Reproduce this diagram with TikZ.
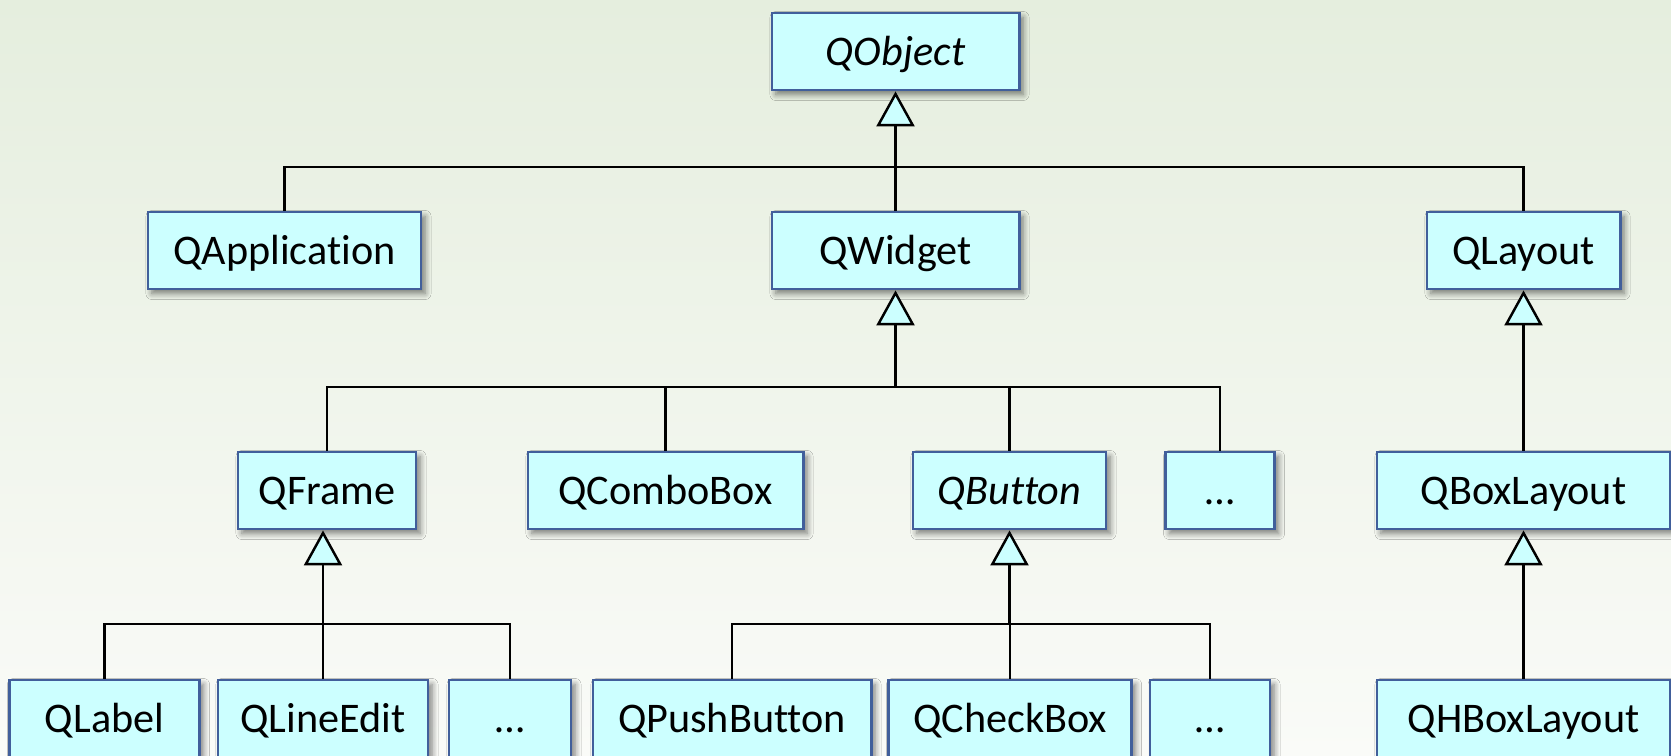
\documentclass[tikz,border=0pt]{standalone}
\usepackage{fontspec}
\setmainfont{Carlito}[Ligatures=NoCommon]
\usetikzlibrary{arrows.meta,shadows.blur}

\definecolor{boxfill}{HTML}{CCFFFF}
\definecolor{boxline}{RGB}{65,95,155}
\definecolor{bgtop}{RGB}{229,238,222}
\definecolor{bgbottom}{RGB}{250,251,248}

\begin{document}
\begin{tikzpicture}[x=0.01cm,y=-0.01cm,
    cls/.style={draw=boxline,fill=boxfill,line width=0.8pt,minimum height=0.77cm,
      text height=7.7pt,text depth=0pt,font=\fontsize{12}{14}\selectfont,
      blur shadow={shadow xshift=0.04cm,shadow yshift=-0.045cm,
        shadow blur radius=0.06cm,shadow blur steps=6,shadow opacity=50}},
    abstract/.style={cls,font=\fontsize{12}{14}\selectfont\itshape},
    link/.style={line width=0.7pt},
    isa/.style={link,-{Triangle[length=0.35cm,width=0.38cm,fill=boxfill]}}]
      % background
      \shade[top color=bgtop,bottom color=bgbottom] (0,0) rectangle (1671,755);
      \useasboundingbox (0,0) rectangle (1671,755);

      % classes
      \node[abstract,minimum width=2.47cm] (qobject) at (895.5,51.5) {QObject};

      \node[cls,minimum width=2.73cm] (qapp)    at (284.5,250.5)  {QApplication};
      \node[cls,minimum width=2.47cm] (qwidget) at (895.5,250.5)  {QWidget};
      \node[cls,minimum width=1.93cm] (qlayout) at (1523.5,250.5) {QLayout};

      \node[cls,minimum width=1.78cm]      (qframe)     at (327,490.5)    {QFrame};
      \node[cls,minimum width=2.75cm]      (qcombo)     at (665.5,490.5)  {QComboBox};
      \node[abstract,minimum width=1.93cm] (qbutton)    at (1009.5,490.5) {QButton};
      \node[cls,minimum width=1.09cm]      (wmore)      at (1220,490.5)   {…};
      \node[cls,minimum width=2.93cm]      (qboxlayout) at (1523.5,490.5) {QBoxLayout};

      \node[cls,minimum width=1.90cm] (qlabel)    at (104.5,718.5)  {QLabel};
      \node[cls,minimum width=2.10cm] (qlineedit) at (323,718.5)    {QLineEdit};
      \node[cls,minimum width=1.22cm] (fmore)     at (510,718.5)    {…};
      \node[cls,minimum width=2.78cm] (qpush)     at (732,718.5)    {QPushButton};
      \node[cls,minimum width=2.43cm] (qcheck)    at (1010,718.5)   {QCheckBox};
      \node[cls,minimum width=1.20cm] (bmore)     at (1210,718.5)   {…};
      \node[cls,minimum width=2.93cm] (qhbox)     at (1523.5,718.5) {QHBoxLayout};

      % inheritance
      \coordinate (j1) at (895.5,167);
      \draw[link] (qapp.north) |- (j1) -| (qlayout.north);
      \draw[link] (qwidget.north) -- (j1);
      \draw[isa] (j1) -- (qobject.south);

      \coordinate (j2) at (895.5,387);
      \draw[link] (qframe.north) |- (j2) -| (wmore.north);
      \draw[link] (qcombo.north) -- (qcombo.north |- j2);
      \draw[link] (qbutton.north) -- (qbutton.north |- j2);
      \draw[isa] (j2) -- (qwidget.south);

      \coordinate (j3) at (323,624);
      \draw[link] (qlabel.north) |- (j3) -| (fmore.north);
      \draw[link] (qlineedit.north) -- (j3);
      \draw[isa] (j3) -- (qframe.south -| j3);

      \coordinate (j4) at (1009.5,624);
      \draw[link] (qpush.north) |- (j4) -| (bmore.north);
      \draw[link] (qcheck.north) -- (qcheck.north |- j4);
      \draw[isa] (j4) -- (qbutton.south);

      \draw[isa] (qboxlayout.north) -- (qlayout.south);
      \draw[isa] (qhbox.north) -- (qboxlayout.south);
    \end{tikzpicture}
\end{document}
